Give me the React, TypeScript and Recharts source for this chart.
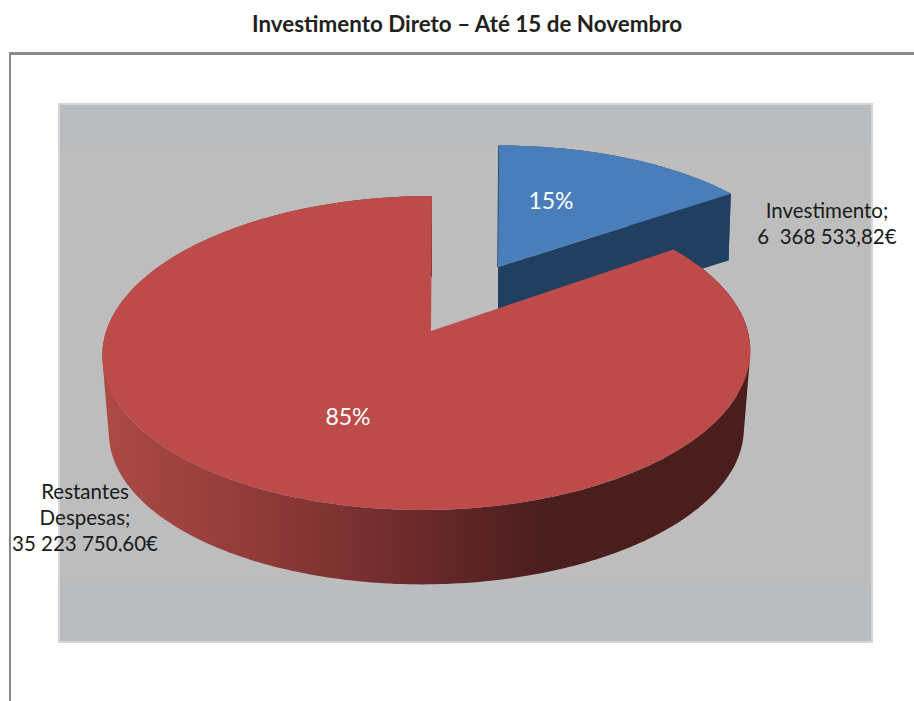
import { PieChart, Pie } from 'recharts'

const NAMES = ['Investimento', 'Restantes Despesas']
const VALUES = [6368533.82, 35223750.6]
const PERCENT_LABELS = ['15%', '85%']
const LABEL_LINES = [['Investimento;', '6  368 533,82€'], ['Restantes', 'Despesas;', '35 223 750,60€']]

const data = NAMES.map((name, i) => ({ name, value: VALUES[i] }))

const FONT = 'Lato, "Open Sans", sans-serif'

// fake 3D: each slice has its own explode offset, scale and extrusion depth
const SLICE_3D = [
  { dx: 67, dy: -64, sx: 0.96, sy: 0.9, depth: 66, shrink: 0.99, top: '#4A7EBB', wall: '#214061' },
  { dx: 0, dy: 0, sx: 1, sy: 1, depth: 78, shrink: 0.98, top: '#BC4B4A', wall: 'url(#redWall)' },
]

const PERCENT_POS = [{ x: 551, y: 209 }, { x: 348, y: 425 }]
const NAME_POS = [{ x: 827, y: 218 }, { x: 85, y: 499 }]

const TILT = 0.14

type Pt = { x: number; y: number }

function project(deg: number, cx: number, cy: number, r: number) {
  const a = (deg * Math.PI) / 180
  const v = Math.sin(a)
  const w = 1 + TILT * v
  return {
    x: cx + (r * 0.99 * Math.cos(a)) / w + 5 * v - 4,
    y: cy - (r * 0.475 * v) / w,
  }
}

function toPath(points: Pt[]) {
  return points.map((p, i) => `${i ? 'L' : 'M'}${p.x.toFixed(1)},${p.y.toFixed(1)}`).join(' ') + ' Z'
}

// same winding for every quad, otherwise overlapping ones cancel out under nonzero fill
function quadPath(q: Pt[]) {
  let area = 0
  q.forEach((p, i) => {
    const n = q[(i + 1) % q.length]
    area += p.x * n.y - n.x * p.y
  })
  return toPath(area < 0 ? [...q].reverse() : q)
}

function Slice3D(props: any) {
  const { cx, cy, outerRadius, startAngle, endAngle, index } = props
  const s = SLICE_3D[index]
  const ax = cx + s.dx
  const ay = cy + s.dy

  const rim: Pt[] = []
  const steps = Math.ceil(Math.abs(startAngle - endAngle))
  for (let i = 0; i <= steps; i++) {
    const deg = startAngle + ((endAngle - startAngle) * i) / steps
    const p = project(deg, 0, 0, outerRadius)
    rim.push({ x: ax + p.x * s.sx, y: ay + p.y * s.sy })
  }
  const lower = (p: Pt) => ({
    x: ax + (p.x - ax) * s.shrink,
    y: ay + (p.y - ay) * s.shrink + s.depth,
  })
  const apex = { x: ax, y: ay }
  const last = rim[rim.length - 1]

  // one quad per rim step so the silhouette joins the two rims at the sides
  const wallPath = rim
    .slice(1)
    .map((p, i) => quadPath([rim[i], p, lower(p), lower(rim[i])]))
    .join(' ')

  return (
    <g>
      <defs>
        <linearGradient id="redWall" gradientUnits="userSpaceOnUse" x1="105" y1="0" x2="750" y2="0">
          <stop offset="0" stopColor="#AC4A45" />
          <stop offset="0.25" stopColor="#8E3A38" />
          <stop offset="0.5" stopColor="#692829" />
          <stop offset="0.68" stopColor="#4B1E1E" />
          <stop offset="1" stopColor="#4B1E1E" />
        </linearGradient>
      </defs>
      <path d={wallPath} fill={s.wall} />
      {index === 0 && (
        <>
          <path d={toPath([apex, last, lower(last), lower(apex)])} fill={s.wall} />
          <path d={`M${rim[0].x},${rim[0].y} L${apex.x},${apex.y}`} stroke={s.wall} strokeWidth={1.5} fill="none" />
        </>
      )}
      <path d={toPath([apex, ...rim])} fill={s.top} />
    </g>
  )
}

function SliceLabel(props: any) {
  const { index } = props
  const pct = PERCENT_POS[index]
  const pos = NAME_POS[index]
  return (
    <g style={{ fontFamily: FONT }}>
      <text x={pct.x} y={pct.y} textAnchor="middle" fontSize={23} fill="#FFFFFF">
        {PERCENT_LABELS[index]}
      </text>
      <g clipPath="url(#labelClip)">
        {LABEL_LINES[index].map((line, i) => (
          <text key={i} x={pos.x} y={pos.y + i * 26} textAnchor="middle" fontSize={20.5} fill="#1A1A1A" style={{ whiteSpace: 'pre' }}>
            {line}
          </text>
        ))}
      </g>
    </g>
  )
}

export default function App() {
  return (
    <div style={{ position: 'absolute', left: 0, top: 0, width: 914, height: 701, background: '#fff', overflow: 'hidden' }}>
      <div style={{ position: 'absolute', left: 0, top: 9, width: 934, textAlign: 'center', fontFamily: FONT, fontWeight: 700, fontSize: 22.4, lineHeight: '30px', color: '#231F20' }}>
        Investimento Direto – Até 15 de Novembro
      </div>
      {/* outer frame */}
      <div style={{ position: 'absolute', left: 9, top: 52, width: 905, height: 649, borderTop: '3px solid #88888B', borderLeft: '2px solid #88888B', boxSizing: 'border-box' }} />
      {/* plot area */}
      <div style={{ position: 'absolute', left: 58, top: 103, width: 815, height: 540, boxSizing: 'border-box', border: '2px solid #D4D5D6', background: '#BBBCC0' }}>
        <div style={{ position: 'absolute', left: 0, top: 40, width: 811, height: 438, background: '#BDBDBD' }} />
      </div>
      <div style={{ position: 'absolute', left: 0, top: 0 }}>
        <PieChart width={914} height={701} margin={{ top: 0, right: 0, bottom: 0, left: 0 }}>
          <defs>
            <clipPath id="labelClip">
              <rect x={0} y={0} width={914} height={552} />
            </clipPath>
          </defs>
          <Pie
            data={data}
            dataKey="value"
            nameKey="name"
            cx={431}
            cy={331}
            outerRadius={324}
            startAngle={90}
            endAngle={-270}
            stroke="none"
            shape={Slice3D}
            label={SliceLabel}
            labelLine={false}
            isAnimationActive={false}
          />
        </PieChart>
      </div>
    </div>
  )
}
